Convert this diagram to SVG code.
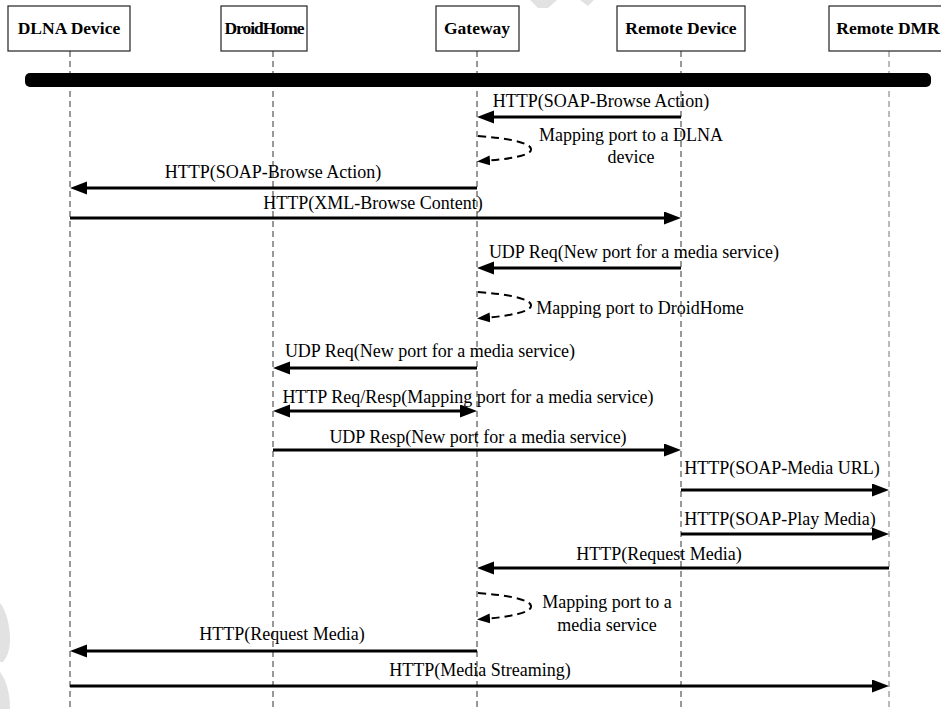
<svg xmlns="http://www.w3.org/2000/svg" width="941" height="709" viewBox="0 0 941 709">
  <style>
    .box { fill: #fff; stroke: #222; stroke-width: 1.2; }
    .hdr { font-family: "Liberation Serif", "Times New Roman", serif; font-weight: bold; font-size: 17.5px; fill: #000; text-anchor: middle; }
    .tight { letter-spacing: -1px; }
    .lbl { font-family: "Liberation Serif", "Times New Roman", serif; font-size: 18px; fill: #000; text-anchor: middle; }
    .life { stroke: #333; stroke-width: 1; stroke-dasharray: 6 4; fill: none; }
    .life-far { stroke: #777; }
    .msg { stroke: #000; stroke-width: 3; fill: none; }
    .loop { stroke: #000; stroke-width: 2; stroke-dasharray: 8 5; fill: none; }
  </style>
  <defs>
    <marker id="head" markerUnits="userSpaceOnUse" markerWidth="18" markerHeight="14" refX="9" refY="6.5" orient="auto-start-reverse">
      <path d="M0,0 L17,6.5 L0,13 Z" fill="#000"/>
    </marker>
    <marker id="headSmall" markerUnits="userSpaceOnUse" markerWidth="14" markerHeight="11" refX="6" refY="5" orient="auto">
      <path d="M0,0 L13,5 L0,10 Z" fill="#000"/>
    </marker>
  </defs>

  <rect width="941" height="709" fill="#fff"/>

  <!-- faint background marks -->
  <g fill="#e2e2e2">
    <path d="M0,603 C6,610 10,625 10,640 C10,650 7,657 3,662 L0,662 Z"/>
    <path d="M0,672 C6,680 10,692 10,709 L0,709 Z"/>
    <path d="M530,0 L557,0 L548,8 L538,8 Z"/>
    <path d="M580,0 L594,0 L588,6 Z"/>
  </g>

  <!-- lifelines -->
  <g id="lifelines">
    <line class="life" x1="70" y1="51" x2="70" y2="709"/>
    <line class="life" x1="273" y1="51" x2="273" y2="709"/>
    <line class="life" x1="477" y1="51" x2="477" y2="709"/>
    <line class="life" x1="681" y1="51" x2="681" y2="709"/>
    <line class="life life-far" x1="889" y1="51" x2="889" y2="709"/>
  </g>

  <!-- participants -->
  <g id="dlna-device">
    <rect class="box" x="8" y="6" width="122" height="45"/>
    <text class="hdr" x="69" y="34">DLNA Device</text>
  </g>
  <g id="droidhome">
    <rect class="box" x="221" y="6" width="86" height="45"/>
    <text class="hdr tight" x="264" y="34">DroidHome</text>
  </g>
  <g id="gateway">
    <rect class="box" x="436" y="6" width="83" height="45"/>
    <text class="hdr" x="477" y="34">Gateway</text>
  </g>
  <g id="remote-device">
    <rect class="box" x="617" y="6" width="128" height="45"/>
    <text class="hdr" x="681" y="34">Remote Device</text>
  </g>
  <g id="remote-dmr">
    <rect class="box" x="829" y="6" width="130" height="45"/>
    <text class="hdr" x="888" y="34">Remote DMR</text>
  </g>

  <!-- session bar -->
  <rect id="session-bar" x="25" y="73" width="906" height="14" rx="5" fill="#000"/>

  <!-- messages -->
  <g id="connectors">
    <line class="msg" x1="681" y1="117" x2="485" y2="117" marker-end="url(#head)"/>
    <path class="loop" d="M478,136 C505,138 530,142 531,149 C532,156 508,159 484,161" marker-end="url(#headSmall)"/>
    <line class="msg" x1="477" y1="188" x2="78" y2="188" marker-end="url(#head)"/>
    <line class="msg" x1="70" y1="218" x2="673" y2="218" marker-end="url(#head)"/>
    <line class="msg" x1="681" y1="268" x2="485" y2="268" marker-end="url(#head)"/>
    <path class="loop" d="M478,292 C505,294 530,298 531,305 C532,312 508,316 484,318" marker-end="url(#headSmall)"/>
    <line class="msg" x1="477" y1="368" x2="281" y2="368" marker-end="url(#head)"/>
    <line class="msg" x1="281" y1="411" x2="469" y2="411" marker-start="url(#head)" marker-end="url(#head)"/>
    <line class="msg" x1="273" y1="450" x2="673" y2="450" marker-end="url(#head)"/>
    <line class="msg" x1="681" y1="490" x2="881" y2="490" marker-end="url(#head)"/>
    <line class="msg" x1="681" y1="534" x2="881" y2="534" marker-end="url(#head)"/>
    <line class="msg" x1="889" y1="568" x2="485" y2="568" marker-end="url(#head)"/>
    <path class="loop" d="M478,593 C505,595 530,599 531,606 C532,613 508,617 484,619" marker-end="url(#headSmall)"/>
    <line class="msg" x1="477" y1="651" x2="78" y2="651" marker-end="url(#head)"/>
    <line class="msg" x1="70" y1="686" x2="881" y2="686" marker-end="url(#head)"/>
  </g>

  <!-- message labels -->
  <g id="labels">
    <text class="lbl" x="601" y="107">HTTP(SOAP-Browse Action)</text>
    <text class="lbl" x="631" y="141">Mapping port to a DLNA</text>
    <text class="lbl" x="631" y="163">device</text>
    <text class="lbl" x="273" y="178">HTTP(SOAP-Browse Action)</text>
    <text class="lbl" x="373" y="209">HTTP(XML-Browse Content)</text>
    <text class="lbl" x="634" y="258">UDP Req(New port for a media service)</text>
    <text class="lbl" x="640" y="314">Mapping port to DroidHome</text>
    <text class="lbl" x="430" y="357">UDP Req(New port for a media service)</text>
    <text class="lbl" x="468" y="403">HTTP Req/Resp(Mapping port for a media service)</text>
    <text class="lbl" x="478" y="443">UDP Resp(New port for a media service)</text>
    <text class="lbl" x="782" y="474">HTTP(SOAP-Media URL)</text>
    <text class="lbl" x="780" y="525">HTTP(SOAP-Play Media)</text>
    <text class="lbl" x="659" y="560">HTTP(Request Media)</text>
    <text class="lbl" x="607" y="608">Mapping port to a</text>
    <text class="lbl" x="607" y="631">media service</text>
    <text class="lbl" x="282" y="640">HTTP(Request Media)</text>
    <text class="lbl" x="480" y="676">HTTP(Media Streaming)</text>
  </g>
</svg>
